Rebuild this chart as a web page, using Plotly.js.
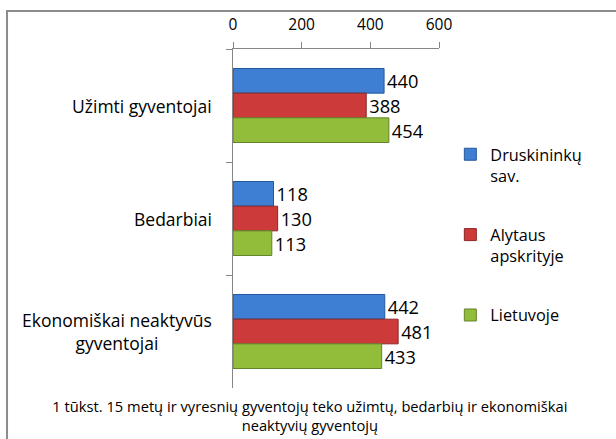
<!DOCTYPE html>
<html>
<head>
<meta charset="utf-8">
<script src="https://cdn.plot.ly/plotly-3.0.1.min.js"></script>
<style>
  html, body { margin: 0; padding: 0; background: #fff; }
  #chart { width: 616px; height: 439px; }
</style>
</head>
<body>
<div id="chart"></div>
<script>
const categories = ["Užimti gyventojai", "Bedarbiai", "Ekonomiškai neaktyvūs gyventojai"];
const categoryLabels = ["Užimti gyventojai", "Bedarbiai", "Ekonomiškai neaktyvūs<br>gyventojai"];
const seriesNames = ["Druskininkų<br>sav.", "Alytaus<br>apskrityje", "Lietuvoje"];
const druskininkai = [440, 118, 442];
const alytus = [388, 130, 481];
const lietuva = [454, 113, 433];
const xTicks = [0, 200, 400, 600];
const titleText = "1 tūkst. 15 metų ir vyresnių gyventojų teko užimtų, bedarbių ir ekonomiškai<br>neaktyvių gyventojų";

const FONT = "'Open Sans', 'Noto Sans', sans-serif";
const fills = ["#3f7fd3", "#cd3a3a", "#92bd3b"];
const edges = ["#24599c", "#8c2626", "#62842a"];
const values = [druskininkai, alytus, lietuva];

const traces = values.map((vals, i) => ({
  type: "bar",
  orientation: "h",
  name: seriesNames[i],
  legendgroup: "g" + i,
  y: categories,
  x: vals,
  marker: { color: fills[i], line: { color: edges[i], width: 1 } },
  text: vals.map(String),
  textposition: "outside",
  cliponaxis: false,
  textfont: { family: FONT, size: 18.5, color: "#000" },
  hoverinfo: "x+name"
}));

const annotations = categories.map((c, i) => ({
  xref: "paper", yref: "y",
  x: -0.09, y: c,
  xanchor: "right", yanchor: "middle",
  align: "center",
  text: categoryLabels[i],
  showarrow: false,
  font: { family: FONT, size: 17.5, color: "#000" }
}));

const layout = {
  width: 616, height: 439,
  margin: { l: 233, r: 177, t: 49, b: 51 },
  paper_bgcolor: "#fff", plot_bgcolor: "#fff",
  font: { family: FONT, color: "#000" },
  barmode: "group",
  bargap: 0.345,
  bargroupgap: 0,
  showlegend: true,
  legend: {
    x: 1.055, xanchor: "left",
    y: 0.74, yanchor: "top",
    valign: "top",
    traceorder: "grouped",
    tracegroupgap: 35,
    font: { family: FONT, size: 16.3, color: "#000" },
    bgcolor: "rgba(0,0,0,0)"
  },
  xaxis: {
    side: "top",
    range: [0, 600],
    tickvals: xTicks,
    ticktext: xTicks.map(String),
    ticks: "outside", ticklen: 6, tickcolor: "#868686",
    ticklabelstandoff: 6,
    showline: true, linecolor: "#868686", linewidth: 1,
    showgrid: false, zeroline: false,
    tickfont: { family: FONT, size: 15.5, color: "#000" }
  },
  yaxis: {
    type: "category",
    autorange: "reversed",
    showticklabels: false,
    ticks: "outside", ticklen: 6, tickcolor: "#868686",
    tickson: "boundaries",
    showline: true, linecolor: "#868686", linewidth: 1,
    showgrid: false, zeroline: false
  },
  title: {
    text: titleText,
    xref: "container", x: 0.503, xanchor: "center",
    yref: "container", y: 0.062, yanchor: "middle",
    font: { family: FONT, size: 14.7, color: "#000" }
  },
  annotations: annotations,
  shapes: [{
    type: "rect", xref: "paper", yref: "paper",
    x0: -1.097, x1: 1.88, y0: -0.17, y1: 1.112,
    line: { color: "#8c8c8c", width: 2 },
    fillcolor: "rgba(0,0,0,0)",
    layer: "below"
  }]
};

Plotly.newPlot("chart", traces, layout, { displayModeBar: false, staticPlot: true });
</script>
</body>
</html>
